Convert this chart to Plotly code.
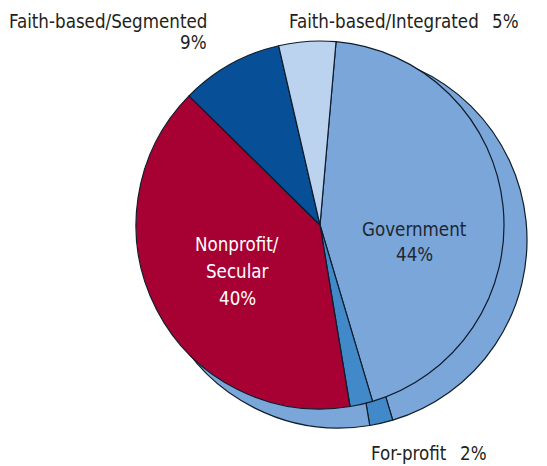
import plotly.graph_objects as go

W, H = 547, 466

labels = ["Government", "For-profit", "Nonprofit/Secular", "Faith-based/Segmented", "Faith-based/Integrated"]
values = [44, 2, 40, 9, 5]
front_colors = ["#7ba6d9", "#4189c8", "#a70033", "#074f97", "#bbd3ee"]
back_colors = ["#7ba6d9", "#4189c8", "#7ba6d9", "#7ba6d9", "#7ba6d9"]

FONT = "DejaVu Sans Condensed, Liberation Sans Narrow, sans-serif"
DARK = "#231f20"
FS = 18.6


def px(x):
    return x / W


def py(y):
    return 1 - y / H


def dom(cx, cy, r):
    return dict(x=[px(cx - r), px(cx + r)], y=[py(cy + r), py(cy - r)])


line = dict(color="#0f1c2b", width=1.2)

fig = go.Figure()
# back (depth) pie
fig.add_trace(go.Pie(
    labels=labels, values=values, sort=False, direction="clockwise", rotation=5,
    marker=dict(colors=back_colors, line=line), textinfo="none", hoverinfo="skip",
    domain=dom(339, 240, 188), showlegend=False,
))
# front pie
fig.add_trace(go.Pie(
    labels=labels, values=values, sort=False, direction="clockwise", rotation=5,
    marker=dict(colors=front_colors, line=line), textinfo="none",
    domain=dom(320, 225, 184), showlegend=False,
))

pct = {lab: f"{v}%" for lab, v in zip(labels, values)}


def ann(text, x, y, color=DARK, xanchor="center"):
    fig.add_annotation(text=text, x=px(x), y=py(y), xref="paper", yref="paper",
                       xanchor=xanchor, yanchor="middle", showarrow=False,
                       font=dict(family=FONT, size=FS, color=color))


# Faith-based/Segmented
ann("Faith-based/Segmented", 209, 21, xanchor="right")
ann(pct["Faith-based/Segmented"], 209, 42, xanchor="right")
# Faith-based/Integrated
ann("Faith-based/Integrated", 481, 21, xanchor="right")
ann(pct["Faith-based/Integrated"], 521, 21, xanchor="right")
# Government
ann("Government", 414, 229, color="#1e2733")
ann(pct["Government"], 414, 255, color="#1e2733")
# Nonprofit/Secular
ann("Nonprofit/", 237, 245, color="white")
ann("Secular", 237, 271, color="white")
ann(pct["Nonprofit/Secular"], 237, 298, color="white")
# For-profit
ann("For-profit", 449, 453, xanchor="right")
ann(pct["For-profit"], 489, 453, xanchor="right")

fig.update_layout(
    width=W, height=H, margin=dict(l=0, r=0, t=0, b=0),
    paper_bgcolor="white", plot_bgcolor="white",
)

fig.write_html("out.html", config={"displayModeBar": False},
               post_script="document.body.style.margin='0';")
